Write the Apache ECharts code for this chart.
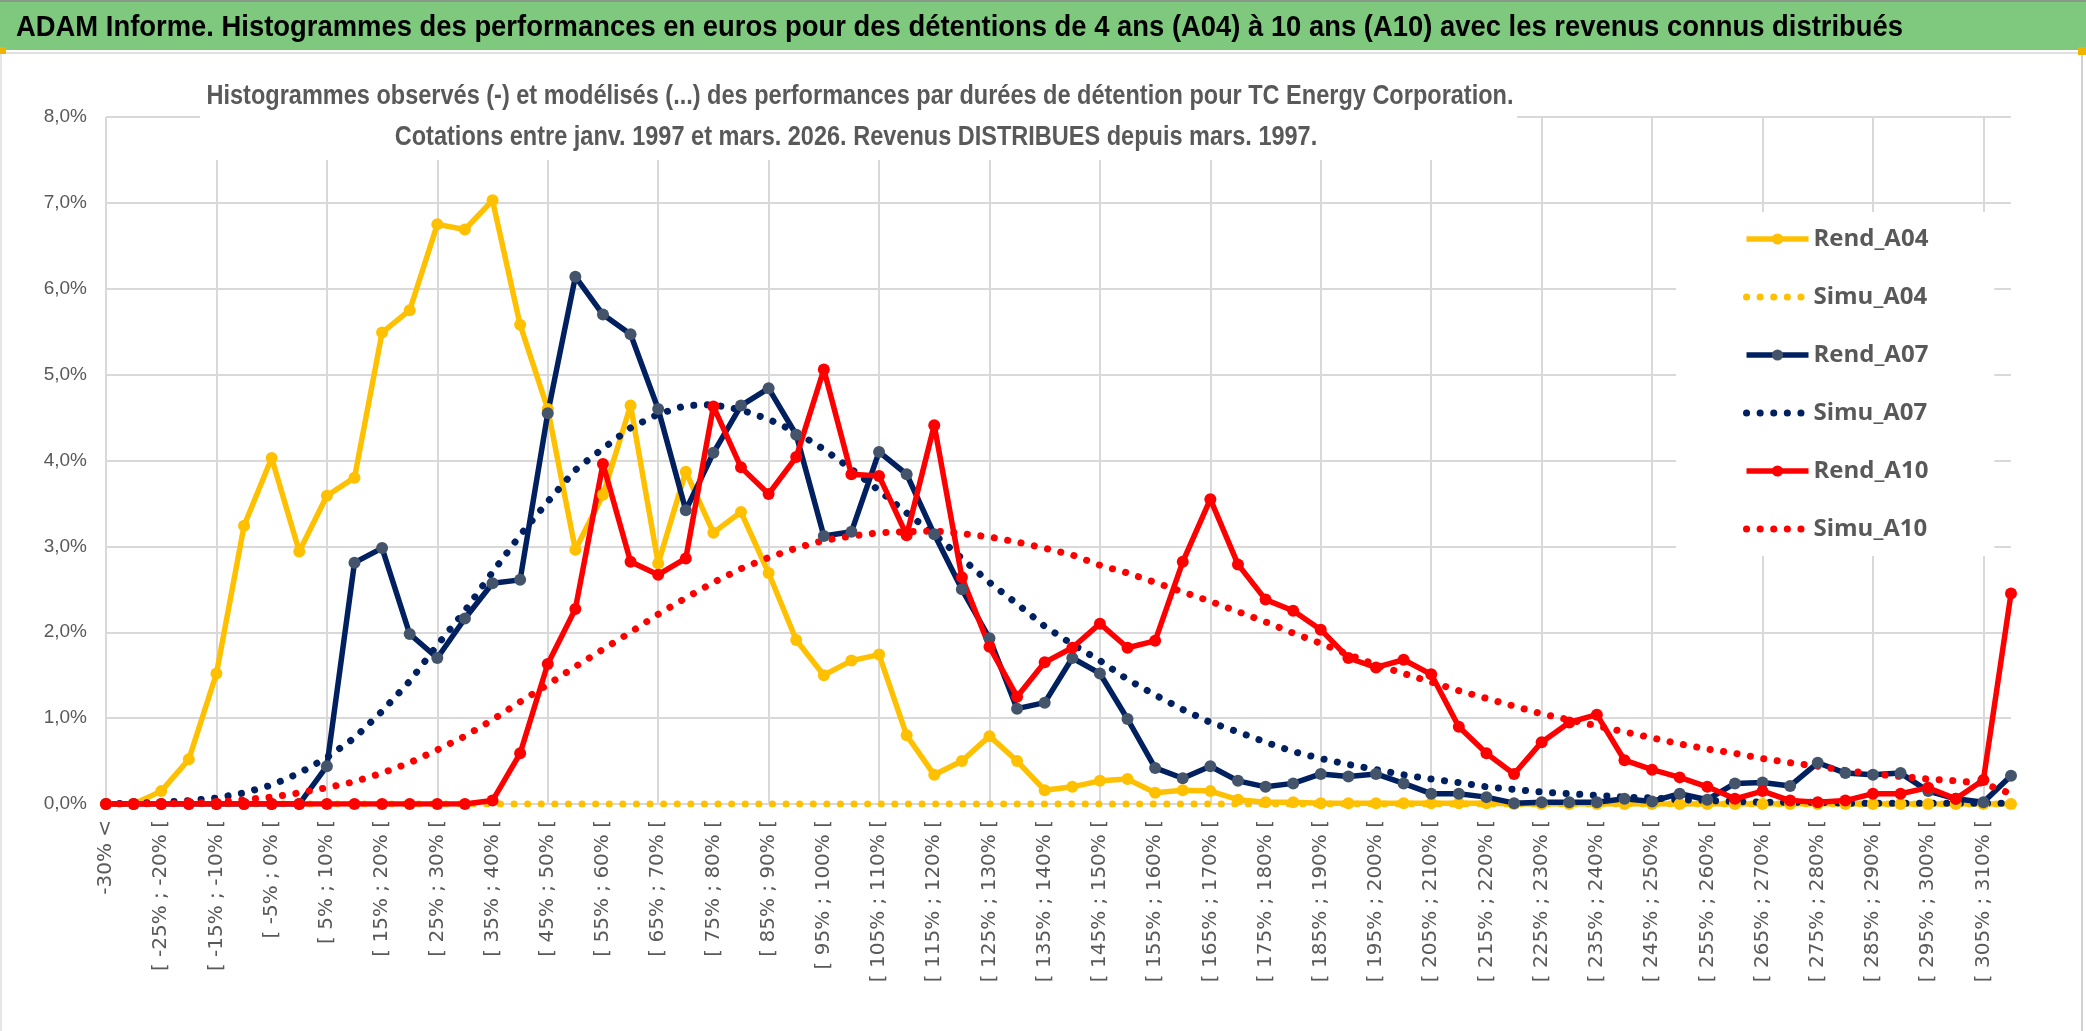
<!DOCTYPE html>
<html><head><meta charset="utf-8">
<script src="https://cdn.jsdelivr.net/npm/echarts@6/dist/echarts.min.js"></script>
<style>html,body{margin:0;padding:0;background:#fff;overflow:hidden}#c{width:2086px;height:1031px}</style>
</head><body><div id="c"></div>
<script>
const categories = ["-30% <",
"[ -30% ; -25% [","[ -25% ; -20% [","[ -20% ; -15% [","[ -15% ; -10% [","[ -10% ; -5% [","[ -5% ; 0% [",
"[ 0% ; 5% [","[ 5% ; 10% [","[ 10% ; 15% [","[ 15% ; 20% [","[ 20% ; 25% [","[ 25% ; 30% [",
"[ 30% ; 35% [","[ 35% ; 40% [","[ 40% ; 45% [","[ 45% ; 50% [","[ 50% ; 55% [","[ 55% ; 60% [",
"[ 60% ; 65% [","[ 65% ; 70% [","[ 70% ; 75% [","[ 75% ; 80% [","[ 80% ; 85% [","[ 85% ; 90% [",
"[ 90% ; 95% [","[ 95% ; 100% [","[ 100% ; 105% [","[ 105% ; 110% [","[ 110% ; 115% [","[ 115% ; 120% [",
"[ 120% ; 125% [","[ 125% ; 130% [","[ 130% ; 135% [","[ 135% ; 140% [","[ 140% ; 145% [","[ 145% ; 150% [",
"[ 150% ; 155% [","[ 155% ; 160% [","[ 160% ; 165% [","[ 165% ; 170% [","[ 170% ; 175% [","[ 175% ; 180% [",
"[ 180% ; 185% [","[ 185% ; 190% [","[ 190% ; 195% [","[ 195% ; 200% [","[ 200% ; 205% [","[ 205% ; 210% [",
"[ 210% ; 215% [","[ 215% ; 220% [","[ 220% ; 225% [","[ 225% ; 230% [","[ 230% ; 235% [","[ 235% ; 240% [",
"[ 240% ; 245% [","[ 245% ; 250% [","[ 250% ; 255% [","[ 255% ; 260% [","[ 260% ; 265% [","[ 265% ; 270% [",
"[ 270% ; 275% [","[ 275% ; 280% [","[ 280% ; 285% [","[ 285% ; 290% [","[ 290% ; 295% [","[ 295% ; 300% [",
"[ 300% ; 305% [","[ 305% ; 310% [","> 310%"];

const rendA04 = [0,0,0.15,0.52,1.52,3.24,4.03,2.94,3.59,3.80,
5.49,5.75,6.75,6.69,7.03,5.58,4.60,2.96,3.60,4.64,
2.80,3.87,3.16,3.40,2.69,1.91,1.50,1.67,1.74,0.80,
0.34,0.50,0.79,0.50,0.16,0.20,0.27,0.29,0.13,0.16,
0.15,0.05,0.02,0.02,0.01,0.01,0.01,0.01,0.01,0.01,
0.01,0,0,0,0,0,0,0,0,0,
0,0,0,0,0,0,0,0,0,0];

const simuA04 = [0,0,0,0,0,0,0,0,0,0,
0,0,0,0,0,0,0,0,0,0,
0,0,0,0,0,0,0,0,0,0,
0,0,0,0,0,0,0,0,0,0,
0,0,0,0,0,0,0,0,0,0,
0,0,0,0,0,0,0,0,0,0,
0,0,0,0,0,0,0,0,0,0];

const rendA07 = [0,0,0,0,0,0,0,0,0.44,2.81,
2.98,1.98,1.70,2.16,2.57,2.61,4.55,6.14,5.70,5.47,
4.60,3.42,4.09,4.64,4.84,4.30,3.12,3.17,4.10,3.84,
3.14,2.50,1.93,1.11,1.18,1.70,1.52,0.99,0.42,0.30,
0.44,0.27,0.20,0.24,0.35,0.32,0.35,0.24,0.12,0.12,
0.08,0.01,0.02,0.02,0.02,0.06,0.03,0.12,0.05,0.24,
0.25,0.21,0.48,0.36,0.34,0.36,0.15,0.06,0.02,0.33];

const simuA07 = [0.00,0.01,0.02,0.04,0.07,0.13,0.22,0.36,0.54,0.77,
1.08,1.43,1.85,2.25,2.70,3.13,3.52,3.89,4.14,4.38,
4.54,4.64,4.65,4.59,4.48,4.33,4.13,3.90,3.65,3.39,
3.14,2.86,2.58,2.33,2.07,1.86,1.67,1.45,1.27,1.10,
0.95,0.84,0.72,0.61,0.53,0.46,0.40,0.34,0.29,0.25,
0.20,0.17,0.14,0.12,0.10,0.08,0.07,0.05,0.04,0.03,
0.02,0.02,0.02,0.01,0.01,0.01,0.01,0.01,0.01,0.01];

const rendA10 = [0,0,0,0,0,0,0,0,0,0,
0,0,0,0,0.04,0.59,1.63,2.27,3.96,2.82,
2.67,2.86,4.63,3.92,3.61,4.04,5.06,3.84,3.82,3.13,
4.41,2.64,1.83,1.25,1.65,1.82,2.10,1.82,1.90,2.82,
3.55,2.79,2.38,2.25,2.03,1.70,1.59,1.68,1.51,0.90,
0.59,0.35,0.72,0.95,1.04,0.51,0.40,0.31,0.20,0.06,
0.15,0.04,0.02,0.04,0.12,0.12,0.19,0.06,0.28,2.45];

const simuA10 = [0.00,0.00,0.01,0.01,0.02,0.05,0.08,0.13,0.19,0.26,
0.36,0.48,0.63,0.79,0.98,1.19,1.39,1.60,1.80,2.00,
2.21,2.40,2.58,2.74,2.87,2.98,3.07,3.12,3.16,3.17,
3.18,3.15,3.11,3.05,2.98,2.90,2.78,2.69,2.58,2.47,
2.36,2.24,2.12,1.99,1.87,1.74,1.62,1.52,1.42,1.32,
1.23,1.14,1.05,0.98,0.91,0.84,0.77,0.70,0.64,0.59,
0.53,0.48,0.44,0.39,0.35,0.32,0.29,0.27,0.24,0.12];

const yTickLabels = ["0,0%","1,0%","2,0%","3,0%","4,0%","5,0%","6,0%","7,0%","8,0%"];

const mainTitle = "ADAM Informe. Histogrammes des performances en euros pour des détentions de 4 ans (A04) à 10 ans (A10) avec les revenus connus distribués";
const subTitle1 = "Histogrammes observés (-) et modélisés (...) des performances par durées de détention pour TC Energy Corporation.";
const subTitle2 = "Cotations entre janv. 1997 et mars. 2026. Revenus DISTRIBUES depuis mars. 1997.";

const SANS = '"Liberation Sans",Arial,sans-serif';
const GRID = '#d9d9d9';
const TXT = '#595959';

function fitScale(text, font, target) {
  const ctx = document.createElement('canvas').getContext('2d');
  ctx.font = font;
  return target / ctx.measureText(text).width;
}
const titleScale = fitScale(mainTitle, 'bold 30px "Liberation Sans"', 1887);
const subScale = fitScale(subTitle1, 'bold 27px "Liberation Sans"', 1307);

function rend(name, data, lineColor, markerColor) {
  return {name, type:'line', data, symbol:'circle', symbolSize:12, showSymbol:true,
    lineStyle:{color:lineColor, width:5.5}, itemStyle:{color:markerColor},
    emphasis:{disabled:true}, animation:false};
}
const DOT = [0.1, 13.5];
function simu(name, data, color) {
  return {name, type:'line', data, symbol:'none',
    lineStyle:{color, width:7, type:DOT, cap:'round'}, itemStyle:{color},
    emphasis:{disabled:true}, animation:false};
}
function legendItem(name, dotted) {
  return dotted
    ? {name, lineStyle:{width:7, type:DOT, cap:'round'}, itemStyle:{opacity:0}}
    : {name, lineStyle:{width:5.5}};
}

const chart = echarts.init(document.getElementById('c'), null, {renderer:'canvas'});
chart.setOption({
  animation:false,
  backgroundColor:'#fff',
  grid:{left:106, right:75, top:117, bottom:227, containLabel:false},
  xAxis:{
    type:'category', data:categories, boundaryGap:false,
    axisLine:{show:true, lineStyle:{color:GRID, width:2}},
    axisTick:{show:false},
    axisLabel:{interval:1, rotate:90, margin:16, color:TXT, fontFamily:'"DejaVu Sans",sans-serif', fontSize:20},
    splitLine:{show:true, interval:function(i){return i%4===0;}, lineStyle:{color:GRID, width:2}}
  },
  yAxis:{
    type:'value', min:0, max:8, interval:1,
    axisLine:{show:false}, axisTick:{show:false},
    axisLabel:{margin:19, color:TXT, fontFamily:SANS, fontSize:19,
      formatter:function(v){return yTickLabels[Math.round(v)];}},
    splitLine:{show:true, lineStyle:{color:GRID, width:2}}
  },
  legend:{
    orient:'vertical', left:1676, top:212,
    padding:[12,66,12,67], backgroundColor:'#fff',
    itemWidth:62, itemHeight:14, itemGap:28,
    textStyle:{fontFamily:'"Open Sans",sans-serif', fontWeight:'bold', fontSize:24, color:TXT, lineHeight:30},
    data:[legendItem('Rend_A04',false), legendItem('Simu_A04',true), legendItem('Rend_A07',false),
          legendItem('Simu_A07',true), legendItem('Rend_A10',false), legendItem('Simu_A10',true)]
  },
  graphic:[
    {type:'rect', z:100, shape:{x:0,y:0,width:2086,height:50}, style:{fill:'#7ec97e'}},
    {type:'rect', z:101, shape:{x:0,y:0,width:2086,height:2}, style:{fill:'#8a9a8a'}},
    {type:'rect', z:101, shape:{x:0,y:52,width:2086,height:2}, style:{fill:'#e0e0e0'}},
    {type:'rect', z:101, shape:{x:2081,y:52,width:2,height:979}, style:{fill:'#d0d0d0'}},
    {type:'rect', z:101, shape:{x:0,y:52,width:2,height:979}, style:{fill:'#e6e6e6'}},
    {type:'rect', z:102, shape:{x:0,y:47,width:6,height:7}, style:{fill:'#f0b400'}},
    {type:'rect', z:102, shape:{x:2078,y:47,width:8,height:8}, style:{fill:'#f0b400'}},
    {type:'text', z:103, x:16, y:28, scaleX:titleScale, style:{text:mainTitle, x:0, y:0, align:'left', verticalAlign:'middle',
      fontFamily:'"Liberation Sans"', fontWeight:'bold', fontSize:30, fill:'#000'}},
    {type:'rect', z:50, shape:{x:200,y:62,width:1317,height:98}, style:{fill:'#fff'}},
    {type:'text', z:51, x:860, y:97, scaleX:subScale, style:{text:subTitle1, x:0, y:0, align:'center', verticalAlign:'middle',
      fontFamily:'"Liberation Sans"', fontWeight:'bold', fontSize:27, fill:TXT}},
    {type:'text', z:51, x:856, y:138, scaleX:subScale, style:{text:subTitle2, x:0, y:0, align:'center', verticalAlign:'middle',
      fontFamily:'"Liberation Sans"', fontWeight:'bold', fontSize:27, fill:TXT}}
  ],
  series:[
    rend('Rend_A04', rendA04, '#FFC000', '#FFC000'),
    simu('Simu_A04', simuA04, '#FFC000'),
    rend('Rend_A07', rendA07, '#002060', '#44546A'),
    simu('Simu_A07', simuA07, '#002060'),
    rend('Rend_A10', rendA10, '#FF0000', '#FF0000'),
    simu('Simu_A10', simuA10, '#FF0000')
  ]
});
</script></body></html>
